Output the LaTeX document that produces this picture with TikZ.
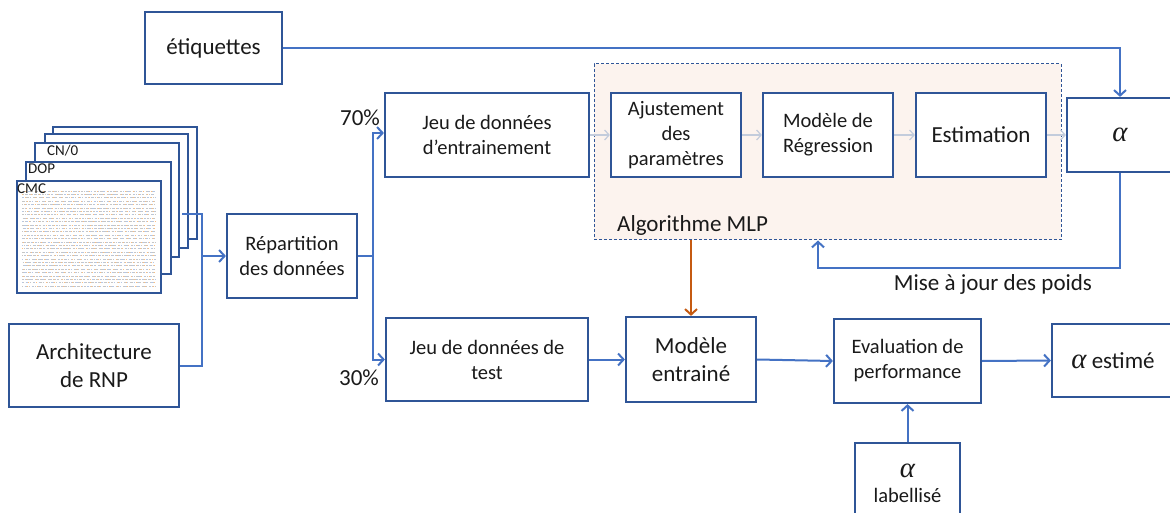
\documentclass[tikz,border=0pt]{standalone}
\usepackage{fontspec}
\setmainfont{Carlito}
\newfontfamily\alphafont{Liberation Serif}
\newcommand{\alf}{\scalebox{1.25}{\alphafont\itshape α}}
\usetikzlibrary{arrows.meta,calc}
\definecolor{boxblue}{HTML}{2F5597}
\definecolor{lineblue}{HTML}{4472C4}
\definecolor{faintline}{HTML}{C3CCDC}
\definecolor{mlpfill}{HTML}{FCF3EE}
\definecolor{feedorange}{HTML}{C55A11}
\definecolor{ink}{HTML}{1A1A1A}
\begin{document}
\begin{tikzpicture}[x=1pt,y=-1pt,
  txt/.style={text=ink,font=\fontsize{20.5}{25}\selectfont},
  bigtxt/.style={text=ink,font=\fontsize{23}{28}\selectfont},
  box/.style={draw=boxblue,line width=2.2pt,fill=white,align=center,inner sep=0pt,txt},
  sheet/.style={draw=boxblue,line width=2pt,fill=white,inner sep=0pt},
  sheetlabel/.style={anchor=north west,inner sep=0pt,text=ink,font=\fontsize{15}{18}\selectfont},
  tip/.style={-{Straight Barb[length=5.5pt,width=12pt]}},
  link/.style={draw=lineblue,line width=2pt},
  conn/.style={link,tip},
  faint/.style={draw=faintline,line width=1.2pt,-{Straight Barb[length=4.5pt,width=10pt]}},
  mlpbox/.style={draw=boxblue,line width=1pt,dash pattern=on 3pt off 2pt,fill=mlpfill,inner sep=0pt}]

\fill[white] (0,0) rectangle (1170,513);
\useasboundingbox (0,0) rectangle (1170,513);

% MLP block background
\node[mlpbox,minimum width=467pt,minimum height=176pt] (mlp) at (827.5,152) {};
\node[anchor=west,inner sep=0pt,bigtxt] (mlplabel) at (617,225) {Algorithme MLP};

% stacked input sheets (back to front)
\node[sheet,minimum width=144pt,minimum height=112pt] (s1) at (125,183) {};
\node[sheet,minimum width=143pt,minimum height=114pt] (s2) at (116.5,191) {};
\node[sheet,minimum width=144pt,minimum height=114pt] (s3) at (107,200) {};
\node[sheet,minimum width=145pt,minimum height=112pt] (s4) at (98.5,218) {};
\node[sheet,minimum width=144pt,minimum height=112pt] (s5) at (89,237) {};
\node[sheetlabel] (lcn) at ([xshift=13pt,yshift=-3pt]s3.north west) {CN/0};
\node[sheetlabel] (ldop) at ([xshift=3pt,yshift=-3pt]s4.north west) {DOP};

% data matrix texture on the front sheet
\pgfmathsetseed{11}
\foreach \r in {0,...,28}{
  \pgfmathsetmacro\yy{191+\r*3.4}
  \pgfmathsetmacro\pa{rnd*9}
  \pgfmathsetmacro\pb{rnd*12}
  \pgfmathsetmacro\pc{rnd*15}
  \draw[gray!45,line width=0.9pt,dash pattern=on 2pt off 1pt on 1pt off 1.5pt on 3pt off 1pt on 1.5pt off 2pt,dash phase=\pa pt] (22,\yy) -- (155,\yy);
  \draw[lineblue!40,line width=0.9pt,dash pattern=on 1pt off 4pt on 1.5pt off 6pt,dash phase=\pb pt] (22,\yy) -- (155,\yy);
  \draw[orange!50,line width=0.9pt,dash pattern=on 1pt off 7pt on 1pt off 9pt,dash phase=\pc pt] (22,\yy) -- (155,\yy);
}
\node[sheetlabel] (lcmc) at ([xshift=1pt,yshift=-4pt]s5.north west) {CMC};

% main boxes
\node[box,bigtxt,minimum width=137pt,minimum height=72pt] (etiq) at (213.5,48) {étiquettes};
\node[box,minimum width=204pt,minimum height=84pt] (train) at (487,135) {Jeu de données\\d’entrainement};
\node[box,minimum width=130pt,minimum height=84pt] (ajust) at (676,135) {Ajustement\\des\\paramètres};
\node[box,minimum width=130pt,minimum height=84pt] (regr) at (828,135) {Modèle de\\Régression};
\node[box,bigtxt,minimum width=130pt,minimum height=84pt] (estim) at (981,135) {Estimation};
\node[box,bigtxt,minimum width=106pt,minimum height=74pt] (alpha) at (1120,135) {\alf};
\node[box,minimum width=130pt,minimum height=84pt] (rep) at (292,256) {Répartition\\des données};
\node[box,bigtxt,minimum width=170pt,minimum height=83pt] (arch) at (94,365.5) {Architecture\\de RNP};
\node[box,minimum width=202pt,minimum height=83pt] (test) at (487,359.5) {Jeu de données de\\test};
\node[box,bigtxt,minimum width=130pt,minimum height=85pt] (mod) at (691,359.5) {Modèle\\entrainé};
\node[box,minimum width=147pt,minimum height=84pt] (eval) at (907.5,361) {Evaluation de\\performance};
\node[box,bigtxt,minimum width=122pt,minimum height=73pt] (est) at (1113,360.5) {\alf{} estimé};
\node[box,minimum width=105pt,minimum height=80pt] (lab) at (907.5,483) {{\fontsize{23}{26}\selectfont\alf}\\labellisé};

% free labels
\node[bigtxt,inner sep=0pt] (p70) at (360,118) {70\%};
\node[bigtxt,inner sep=0pt] (p30) at (359,378) {30\%};
\node[bigtxt,inner sep=0pt] (maj) at (993,284) {Mise à jour des poids};

% inputs to the split
\coordinate (stk) at (182,214);
\coordinate (join) at ([xshift=-24pt]rep.west);
\draw[link] (stk) -| (join);
\draw[link] (arch.east) -| (join);
\draw[conn] (join) -- (rep.west);

% split into training / test
\draw[link] (rep.east) -- ++(15,0) coordinate (split);
\draw[conn] (split) |- ([yshift=2pt]train.west);
\draw[conn] (split) |- (test.west);

% MLP chain
\draw[faint] (train.east) -- (ajust.west);
\draw[faint] (ajust.east) -- (regr.west);
\draw[faint] (regr.east) -- (estim.west);
\draw[faint] (estim.east) -- (alpha.west);

% labels and weight update
\draw[conn] (etiq.east) -| (alpha.north);
\draw[conn] (alpha.south) -- ++(0,95) -| ([xshift=-9.5pt]mlp.south);

% trained model and evaluation
\draw[draw=feedorange,line width=2pt,tip] (mod.north |- mlp.south) -- (mod.north);
\draw[conn] (test.east) -- (mod.west);
\draw[conn] (mod.east) -- (eval.west);
\draw[conn] (eval.east) -- (est.west);
\draw[conn] (lab.north) -- (eval.south);
\end{tikzpicture}
\end{document}
